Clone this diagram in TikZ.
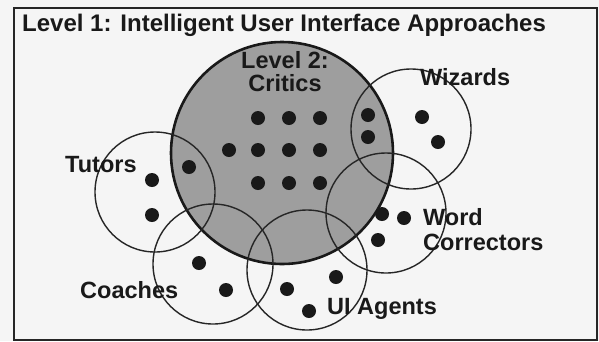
\documentclass[tikz,border=0pt]{standalone}
\usepackage{fontspec}
\setmainfont{Liberation Sans}
\begin{document}
\begin{tikzpicture}[x=1pt,y=-1pt,
  ring/.style={circle,draw=black!85,line width=1.4pt,minimum size=120pt,inner sep=0pt},
  critic/.style={circle,draw=black!90,line width=2.6pt,fill=black!38,minimum size=222pt,inner sep=0pt},
  dot/.style={circle,fill=black!90,minimum size=14pt,inner sep=0pt},
  lbl/.style={font=\bfseries\fontsize{23.5}{25}\selectfont,text=black!90,inner sep=0pt,anchor=base west},
  clbl/.style={font=\bfseries\fontsize{23.5}{22.5}\selectfont,text=black!90,inner sep=0pt,align=center}]
\fill[black!4] (0,0) rectangle (599,341);
\useasboundingbox (0,0) rectangle (599,341);
\node[draw=black!85,line width=2pt,minimum width=583pt,minimum height=332pt,inner sep=0pt,anchor=north west] (frame) at (13,7) {};
% circles
\node[critic] (critics) at (282,153) {};
\node[ring] (tutors) at (155,192) {};
\node[ring] (coaches) at (213,264) {};
\node[ring] (uiagents) at (307,270) {};
\node[ring] (wordc) at (386,213) {};
\node[ring] (wizards) at (411,129) {};
% critics dots
\node[dot] (c1) at (258,118) {};
\node[dot] (c2) at (289,118) {};
\node[dot] (c3) at (320,118) {};
\node[dot] (c4) at (229,150) {};
\node[dot] (c5) at (258,150) {};
\node[dot] (c6) at (289,150) {};
\node[dot] (c7) at (320,150) {};
\node[dot] (c8) at (258,183) {};
\node[dot] (c9) at (289,183) {};
\node[dot] (c10) at (320,183) {};
% tutors dots
\node[dot] (t1) at (189,167) {};
\node[dot] (t2) at (152,180) {};
\node[dot] (t3) at (152,215) {};
% wizards dots
\node[dot] (w1) at (368,115) {};
\node[dot] (w2) at (368,137) {};
\node[dot] (w3) at (422,117) {};
\node[dot] (w4) at (438,142) {};
% word correctors dots
\node[dot] (r1) at (382,214) {};
\node[dot] (r2) at (404,218) {};
\node[dot] (r3) at (378,240) {};
% coaches dots
\node[dot] (h1) at (199,263) {};
\node[dot] (h2) at (226,290) {};
% ui agents dots
\node[dot] (u1) at (287,289) {};
\node[dot] (u2) at (336,277) {};
\node[dot] (u3) at (309,311) {};
% labels
\node[lbl,font=\bfseries\fontsize{24}{26}\selectfont] (title) at (22,31) {Level 1: Intelligent User Interface Approaches};
\node[clbl,anchor=north] (lv2) at (285,51.5) {Level 2:\\Critics};
\node[lbl] (tut) at (65,172) {Tutors};
\node[lbl] (wiz) at (420,85) {Wizards};
\node[lbl] (word) at (423,225) {Word};
\node[lbl] (corr) at (423,250) {Correctors};
\node[lbl] (coach) at (80,298) {Coaches};
\node[lbl] (uia) at (327,314) {UI Agents};
\end{tikzpicture}
\end{document}
